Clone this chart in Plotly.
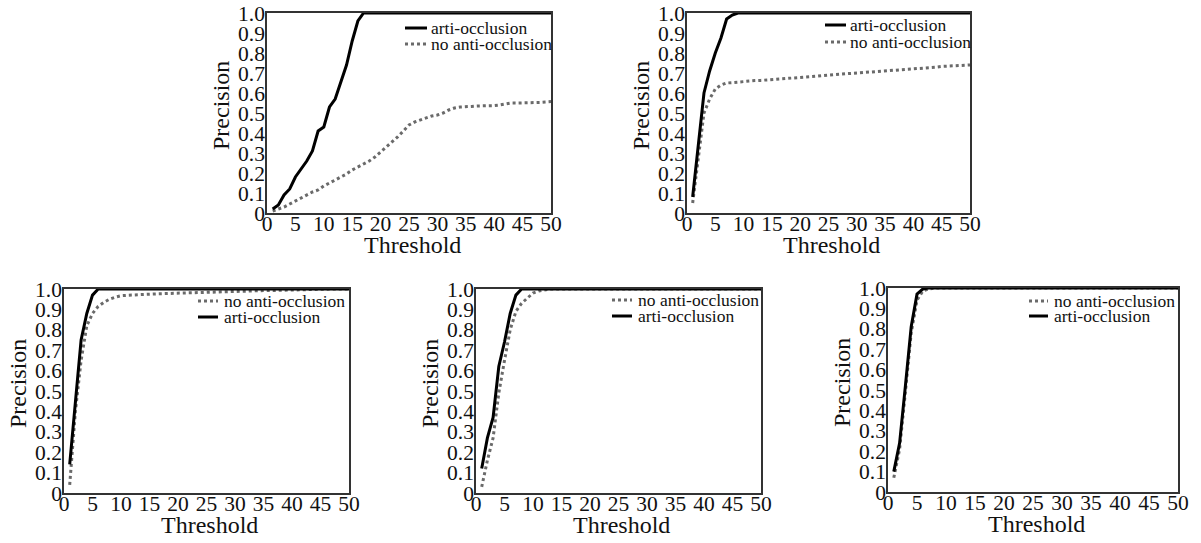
import plotly.graph_objects as go

thresholds = list(range(1, 51))

p1_arti = [0.02, 0.04, 0.09, 0.12, 0.18, 0.22, 0.26, 0.31, 0.41, 0.43,
           0.53, 0.57, 0.65, 0.74, 0.86, 0.96, 1.0, 1.0, 1.0, 1.0,
           1.0, 1.0, 1.0, 1.0, 1.0, 1.0, 1.0, 1.0, 1.0, 1.0,
           1.0, 1.0, 1.0, 1.0, 1.0, 1.0, 1.0, 1.0, 1.0, 1.0,
           1.0, 1.0, 1.0, 1.0, 1.0, 1.0, 1.0, 1.0, 1.0, 1.0]
p1_no = [0.01, 0.02, 0.03, 0.045, 0.06, 0.075, 0.09, 0.105, 0.115, 0.135,
         0.15, 0.165, 0.18, 0.195, 0.215, 0.23, 0.245, 0.26, 0.28, 0.305,
         0.33, 0.355, 0.38, 0.41, 0.44, 0.455, 0.465, 0.475, 0.485, 0.49,
         0.50, 0.515, 0.525, 0.53, 0.53, 0.533, 0.535, 0.535, 0.535, 0.537,
         0.54, 0.545, 0.55, 0.55, 0.55, 0.55, 0.552, 0.553, 0.555, 0.557]

p2_arti = [0.08, 0.34, 0.60, 0.71, 0.80, 0.875, 0.97, 0.99, 1.0, 1.0,
           1.0, 1.0, 1.0, 1.0, 1.0, 1.0, 1.0, 1.0, 1.0, 1.0,
           1.0, 1.0, 1.0, 1.0, 1.0, 1.0, 1.0, 1.0, 1.0, 1.0,
           1.0, 1.0, 1.0, 1.0, 1.0, 1.0, 1.0, 1.0, 1.0, 1.0,
           1.0, 1.0, 1.0, 1.0, 1.0, 1.0, 1.0, 1.0, 1.0, 1.0]
p2_no = [0.05, 0.28, 0.50, 0.57, 0.62, 0.64, 0.65, 0.652, 0.655, 0.658,
         0.66, 0.662, 0.663, 0.665, 0.667, 0.668, 0.67, 0.672, 0.673, 0.675,
         0.678, 0.681, 0.684, 0.687, 0.69, 0.692, 0.694, 0.696, 0.698, 0.70,
         0.701, 0.703, 0.705, 0.706, 0.708, 0.71, 0.713, 0.715, 0.718, 0.72,
         0.723, 0.725, 0.727, 0.729, 0.733, 0.735, 0.737, 0.738, 0.739, 0.74]

p3_arti = [0.14, 0.45, 0.75, 0.88, 0.97, 1.0, 1.0, 1.0, 1.0, 1.0,
           1.0, 1.0, 1.0, 1.0, 1.0, 1.0, 1.0, 1.0, 1.0, 1.0,
           1.0, 1.0, 1.0, 1.0, 1.0, 1.0, 1.0, 1.0, 1.0, 1.0,
           1.0, 1.0, 1.0, 1.0, 1.0, 1.0, 1.0, 1.0, 1.0, 1.0,
           1.0, 1.0, 1.0, 1.0, 1.0, 1.0, 1.0, 1.0, 1.0, 1.0]
p3_no = [0.04, 0.40, 0.65, 0.82, 0.88, 0.915, 0.935, 0.95, 0.96, 0.967,
         0.969, 0.971, 0.972, 0.974, 0.975, 0.976, 0.977, 0.978, 0.979, 0.98,
         0.981, 0.982, 0.983, 0.984, 0.985, 0.986, 0.986, 0.987, 0.987, 0.988,
         0.989, 0.989, 0.99, 0.991, 0.992, 0.993, 0.993, 0.994, 0.994, 0.995,
         0.996, 0.996, 0.997, 1.0, 1.0, 1.0, 1.0, 1.0, 1.0, 1.0]

p4_arti = [0.12, 0.27, 0.37, 0.62, 0.74, 0.88, 0.97, 1.0, 1.0, 1.0,
           1.0, 1.0, 1.0, 1.0, 1.0, 1.0, 1.0, 1.0, 1.0, 1.0,
           1.0, 1.0, 1.0, 1.0, 1.0, 1.0, 1.0, 1.0, 1.0, 1.0,
           1.0, 1.0, 1.0, 1.0, 1.0, 1.0, 1.0, 1.0, 1.0, 1.0,
           1.0, 1.0, 1.0, 1.0, 1.0, 1.0, 1.0, 1.0, 1.0, 1.0]
p4_no = [0.03, 0.16, 0.27, 0.49, 0.65, 0.80, 0.89, 0.93, 0.955, 0.98,
         0.99, 0.995, 1.0, 1.0, 1.0, 1.0, 1.0, 1.0, 1.0, 1.0,
         1.0, 1.0, 1.0, 1.0, 1.0, 1.0, 1.0, 1.0, 1.0, 1.0,
         1.0, 1.0, 1.0, 1.0, 1.0, 1.0, 1.0, 1.0, 1.0, 1.0,
         1.0, 1.0, 1.0, 1.0, 1.0, 1.0, 1.0, 1.0, 1.0, 1.0]

p5_arti = [0.10, 0.24, 0.52, 0.81, 0.97, 0.995, 1.0, 1.0, 1.0, 1.0,
           1.0, 1.0, 1.0, 1.0, 1.0, 1.0, 1.0, 1.0, 1.0, 1.0,
           1.0, 1.0, 1.0, 1.0, 1.0, 1.0, 1.0, 1.0, 1.0, 1.0,
           1.0, 1.0, 1.0, 1.0, 1.0, 1.0, 1.0, 1.0, 1.0, 1.0,
           1.0, 1.0, 1.0, 1.0, 1.0, 1.0, 1.0, 1.0, 1.0, 1.0]
p5_no = [0.07, 0.21, 0.49, 0.78, 0.94, 0.985, 0.995, 1.0, 1.0, 1.0,
         1.0, 1.0, 1.0, 1.0, 1.0, 1.0, 1.0, 1.0, 1.0, 1.0,
         1.0, 1.0, 1.0, 1.0, 1.0, 1.0, 1.0, 1.0, 1.0, 1.0,
         1.0, 1.0, 1.0, 1.0, 1.0, 1.0, 1.0, 1.0, 1.0, 1.0,
         1.0, 1.0, 1.0, 1.0, 1.0, 1.0, 1.0, 1.0, 1.0, 1.0]

x_tickvals = [0, 5, 10, 15, 20, 25, 30, 35, 40, 45, 50]
x_ticktext = ["0", "5", "10", "15", "20", "25", "30", "35", "40", "45", "50"]
y_tickvals = [0, 0.1, 0.2, 0.3, 0.4, 0.5, 0.6, 0.7, 0.8, 0.9, 1.0]
y_ticktext = ["0", "0.1", "0.2", "0.3", "0.4", "0.5", "0.6", "0.7", "0.8", "0.9", "1.0"]

label_arti = "arti-occlusion"
label_no = "no anti-occlusion"
x_title = "Threshold"
y_title = "Precision"

W, H = 1201, 543

# panel boxes in page pixels: (left, right, top, bottom)
panels = [
    (267, 551, 13, 213),
    (687, 970, 13, 213),
    (64, 349, 289, 493),
    (476, 761, 289, 493),
    (888, 1178, 288, 492),
]
# legend layout per panel in page pixels: (line x0, line x1, text x, row1 y, row2 y, arti first?)
legends = [
    (405, 427, 429, 28, 44, True),
    (825, 846, 848, 25, 42, True),
    (198, 218, 222, 301, 317, False),
    (612, 632, 636, 300, 316, False),
    (1029, 1048, 1052, 301, 316, False),
]
series = [
    (p1_arti, p1_no),
    (p2_arti, p2_no),
    (p3_arti, p3_no),
    (p4_arti, p4_no),
    (p5_arti, p5_no),
]


def px(xp):
    return xp / W


def py(yp):
    return 1 - yp / H


TICK_FONT = dict(family="Liberation Serif", size=21.5, color="#111")
TITLE_FONT = dict(family="Liberation Serif", size=24, color="#111")
LEG_FONT = dict(family="Liberation Serif", size=17.5, color="#111")

ARTI_LINE = dict(color="#000", width=3)
NO_LINE = dict(color="#6a6a6a", width=3, dash="dot")

fig = go.Figure()
layout = dict(
    width=W, height=H,
    margin=dict(l=0, r=0, t=0, b=0),
    paper_bgcolor="white", plot_bgcolor="white",
    showlegend=False,
)
shapes = []
annotations = []

for i, ((l, r, t, b), (arti, no)) in enumerate(zip(panels, series)):
    n = i + 1
    xa = "x" if n == 1 else f"x{n}"
    ya = "y" if n == 1 else f"y{n}"
    fig.add_trace(go.Scatter(x=thresholds, y=no, mode="lines", name=label_no,
                             line=NO_LINE, xaxis=xa, yaxis=ya))
    fig.add_trace(go.Scatter(x=thresholds, y=arti, mode="lines", name=label_arti,
                             line=ARTI_LINE, xaxis=xa, yaxis=ya))

    xkey = "xaxis" if n == 1 else f"xaxis{n}"
    ykey = "yaxis" if n == 1 else f"yaxis{n}"
    layout[xkey] = dict(
        domain=[px(l), px(r)], range=[0, 50], anchor=ya, automargin=False,
        tickvals=x_tickvals, ticktext=x_ticktext, tickfont=TICK_FONT,
        ticks="", ticklen=0, ticklabelstandoff=-10, ticklabeloverflow="allow",
        showgrid=False, zeroline=False,
        showline=True, linecolor="#333", linewidth=1.5, mirror=True,
    )
    layout[ykey] = dict(
        domain=[py(b), py(t)], range=[0, 1], anchor=xa, automargin=False,
        tickvals=y_tickvals, ticktext=y_ticktext, tickfont=TICK_FONT,
        ticks="", ticklen=0, ticklabelstandoff=-4, ticklabeloverflow="allow",
        showgrid=False, zeroline=False,
        showline=True, linecolor="#333", linewidth=1.5, mirror=True,
    )

    # axis titles
    annotations.append(dict(text=x_title, xref="paper", yref="paper",
                            x=px((l + r) / 2 + 3), y=py(b + 32),
                            xanchor="center", yanchor="middle",
                            showarrow=False, font=TITLE_FONT))
    annotations.append(dict(text=y_title, xref="paper", yref="paper",
                            x=px(l - 46), y=py((t + b) / 2 - 7),
                            xanchor="center", yanchor="middle", textangle=-90,
                            showarrow=False, font=TITLE_FONT))

    lx0, lx1, tx, r1, r2, arti_first = legends[i]
    rows = [(label_arti, ARTI_LINE), (label_no, NO_LINE)]
    if not arti_first:
        rows = rows[::-1]
    for (txt, ln), ry in zip(rows, [r1, r2]):
        shapes.append(dict(type="line", xref="paper", yref="paper",
                           x0=px(lx0), x1=px(lx1), y0=py(ry), y1=py(ry),
                           line=ln))
        annotations.append(dict(text=txt, xref="paper", yref="paper",
                                x=px(tx), y=py(ry), xanchor="left", yanchor="middle",
                                showarrow=False, font=LEG_FONT))

layout["shapes"] = shapes
layout["annotations"] = annotations
fig.update_layout(**layout)
fig.write_html("out.html",
               config={"displayModeBar": False},
               post_script="document.body.style.margin='0';document.body.style.overflow='hidden';")
